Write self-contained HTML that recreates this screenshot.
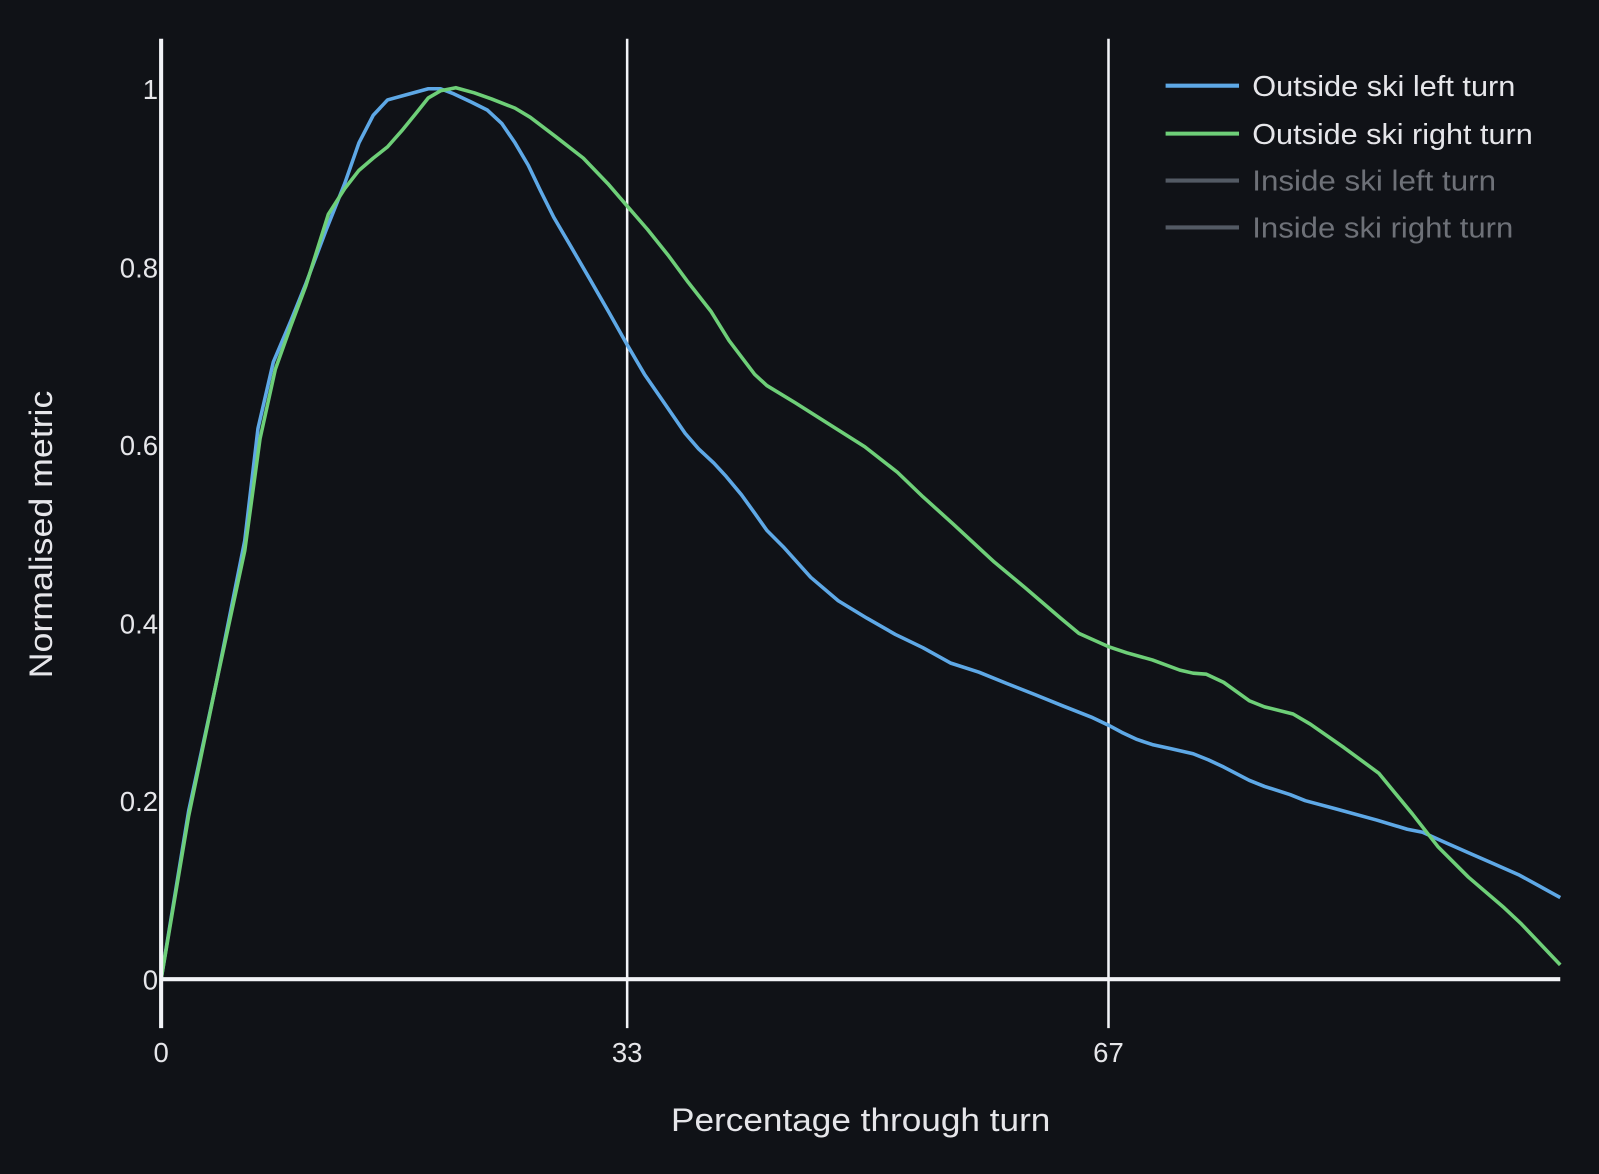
<!DOCTYPE html>
<html><head><style>html,body{margin:0;padding:0;background:#101217;}svg{display:block}</style></head>
<body>
<svg width="1599" height="1174" viewBox="0 0 1568 1151" preserveAspectRatio="none" xmlns="http://www.w3.org/2000/svg" font-family="'Liberation Sans', sans-serif">
<rect width="1568" height="1151" fill="#101217"/>
<g stroke="#f2f3f7" stroke-width="2.5" fill="none">
<line x1="615" y1="38" x2="615" y2="1008"/>
<line x1="1087" y1="38" x2="1087" y2="1008"/>
</g>
<polyline fill="none" stroke="#5ea8e6" stroke-width="3.5" stroke-linejoin="round" points="158,960 185,795 212,670 240,530 253,420 268,355 285,315 300,278 320,225 338,180 352,140 366,113 380,98 398,93 420,87 432,87 445,92 462,100 478,108 492,121 505,140 518,162 530,187 543,213 560,242 578,273 597,306 615,338 632,367 652,396 672,425 685,440 700,454 712,467 727,485 740,503 752,520 768,536 795,566 822,589 850,606 878,622 905,635 932,650 960,659 987,670 1015,681 1042,692 1070,703 1087,711 1100,718 1115,725 1130,730 1148,734 1170,739 1185,745 1200,752 1225,765 1240,771 1265,779 1280,785 1310,793 1350,804 1380,813 1395,816 1415,825 1440,836 1465,847 1490,858 1510,869 1530,880"/>
<polyline fill="none" stroke="#6ecf78" stroke-width="3.5" stroke-linejoin="round" points="158,960 185,800 212,670 240,540 255,430 270,362 285,320 300,280 322,210 338,185 352,167 366,155 380,144 395,127 408,111 420,96 432,89 447,86 465,91 482,97 505,106 520,115 545,134 572,155 596,180 615,202 635,225 655,250 675,277 697,305 715,334 740,367 752,378 780,395 810,414 848,438 880,463 905,487 935,514 975,551 1005,576 1040,606 1058,621 1087,634 1105,640 1130,647 1157,657 1170,660 1183,661 1200,669 1225,687 1240,693 1268,700 1285,710 1318,733 1352,758 1385,798 1410,830 1440,860 1475,890 1492,906 1530,946"/>
<g stroke="#f2f3f7" fill="none">
<line x1="158" y1="38" x2="158" y2="1008" stroke-width="4"/>
<line x1="158" y1="960" x2="1530" y2="960" stroke-width="4"/>
</g>
<g fill="#e6e6ea" font-size="27" text-anchor="end">
<text x="155" y="970">0</text>
<text x="155" y="795">0.2</text>
<text x="155" y="621">0.4</text>
<text x="155" y="446">0.6</text>
<text x="155" y="272">0.8</text>
<text x="155" y="97">1</text>
</g>
<g fill="#e6e6ea" font-size="27" text-anchor="middle">
<text x="158" y="1041">0</text>
<text x="615" y="1041">33</text>
<text x="1087" y="1041">67</text>
</g>
<g fill="#e6e6ea" font-size="32">
<text x="658" y="1109" textLength="372" lengthAdjust="spacingAndGlyphs">Percentage through turn</text>
<text transform="translate(51,665) rotate(-90)" textLength="282" lengthAdjust="spacingAndGlyphs">Normalised metric</text>
</g>
<g stroke-width="4">
<line x1="1143" y1="84" x2="1215" y2="84" stroke="#5ea8e6"/>
<line x1="1143" y1="131" x2="1215" y2="131" stroke="#6ecf78"/>
<line x1="1143" y1="177" x2="1215" y2="177" stroke="#535a64"/>
<line x1="1143" y1="223" x2="1215" y2="223" stroke="#535a64"/>
</g>
<g font-size="28" lengthAdjust="spacingAndGlyphs">
<text x="1228" y="94" fill="#e6e6ea" textLength="258" lengthAdjust="spacingAndGlyphs">Outside ski left turn</text>
<text x="1228" y="141" fill="#e6e6ea" textLength="275" lengthAdjust="spacingAndGlyphs">Outside ski right turn</text>
<text x="1228" y="187" fill="#6e7178" textLength="239" lengthAdjust="spacingAndGlyphs">Inside ski left turn</text>
<text x="1228" y="233" fill="#6e7178" textLength="256" lengthAdjust="spacingAndGlyphs">Inside ski right turn</text>
</g>
</svg>
</body></html>
